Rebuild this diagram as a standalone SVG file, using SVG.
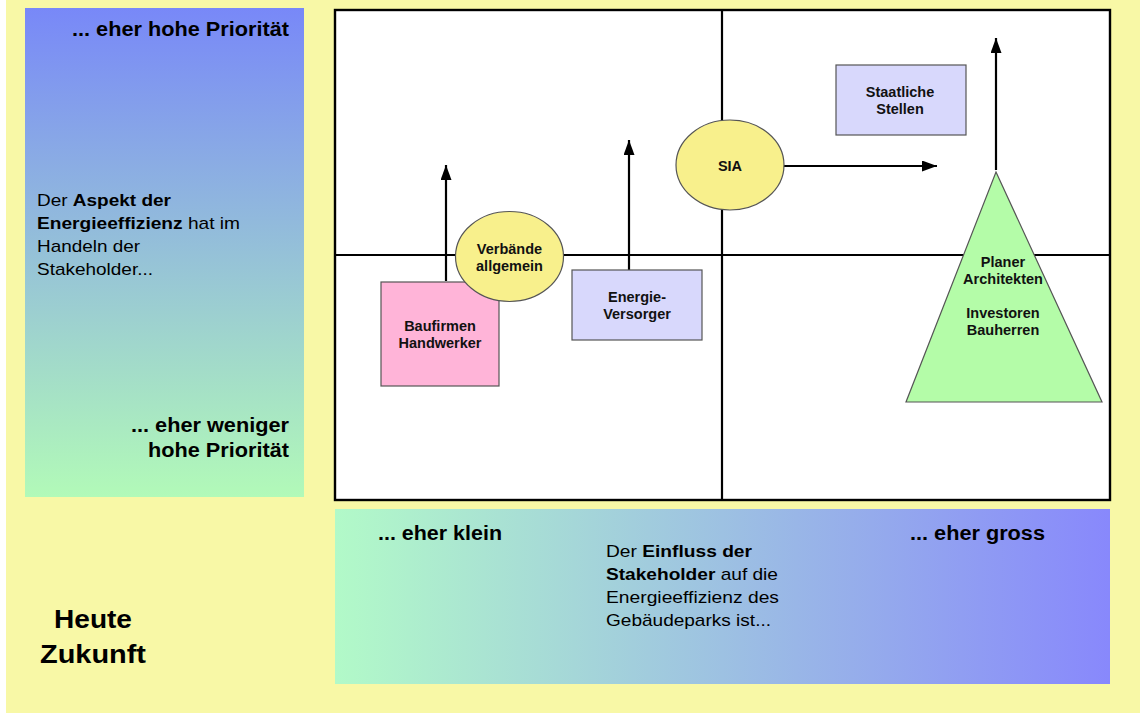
<svg xmlns="http://www.w3.org/2000/svg" width="1140" height="713" viewBox="0 0 1140 713">
<defs>
<linearGradient id="gLeft" x1="0" y1="0" x2="0" y2="1">
<stop offset="0" stop-color="#7888f8"/>
<stop offset="1" stop-color="#b2fab8"/>
</linearGradient>
<linearGradient id="gBottom" x1="0" y1="0" x2="1" y2="0">
<stop offset="0" stop-color="#b2fac8"/>
<stop offset="1" stop-color="#8888fc"/>
</linearGradient>
<marker id="arr" markerUnits="userSpaceOnUse" markerWidth="16" markerHeight="12" refX="15" refY="5.5" orient="auto">
<path d="M0,0 L15,5.5 L0,11 z" fill="#000"/>
</marker>
<style>
text{font-family:"Liberation Sans",Arial,Helvetica,sans-serif;fill:#000}
.big{font-size:19.5px;font-weight:bold}
.body{font-size:17px}
.b{font-weight:bold}
.node{font-size:14.5px;font-weight:bold;text-anchor:middle;fill:#111}
.nodebox{stroke:#555;stroke-width:1.2}
.conn{stroke:#000;stroke-width:2.2;fill:none;marker-end:url(#arr)}
.grid{stroke:#000;stroke-width:2.2;fill:none}
.frame{stroke:#000;stroke-width:2.4;fill:#fff}
</style>
</defs>
<rect x="0" y="0" width="1140" height="713" fill="#fff"/>
<rect x="6" y="0" width="1134" height="713" fill="#f8f8a6"/>

<g id="left-panel">
<rect x="25" y="8" width="279" height="489" fill="url(#gLeft)"/>
<text class="big" x="289" y="36" text-anchor="end" textLength="217" lengthAdjust="spacingAndGlyphs">... eher hohe Priorität</text>
<text class="body" x="37" y="206" textLength="134" lengthAdjust="spacingAndGlyphs">Der <tspan class="b">Aspekt der</tspan></text>
<text class="body" x="37" y="229" textLength="203" lengthAdjust="spacingAndGlyphs"><tspan class="b">Energieeffizienz</tspan> hat im</text>
<text class="body" x="37" y="252" textLength="103" lengthAdjust="spacingAndGlyphs">Handeln der</text>
<text class="body" x="37" y="275" textLength="116" lengthAdjust="spacingAndGlyphs">Stakeholder...</text>
<text class="big" x="289" y="432" text-anchor="end" textLength="158" lengthAdjust="spacingAndGlyphs">... eher weniger</text>
<text class="big" x="289" y="457" text-anchor="end" textLength="141" lengthAdjust="spacingAndGlyphs">hohe Priorität</text>
</g>

<g id="time-labels">
<text x="54" y="628" font-size="26" font-weight="bold" textLength="78" lengthAdjust="spacingAndGlyphs">Heute</text>
<text x="40" y="663" font-size="26" font-weight="bold" textLength="106" lengthAdjust="spacingAndGlyphs">Zukunft</text>
</g>

<g id="bottom-panel">
<rect x="335" y="509" width="775" height="175" fill="url(#gBottom)"/>
<text class="big" x="378" y="540" textLength="124" lengthAdjust="spacingAndGlyphs">... eher klein</text>
<text class="big" x="910" y="540" textLength="135" lengthAdjust="spacingAndGlyphs">... eher gross</text>
<text class="body" x="606" y="557" textLength="146" lengthAdjust="spacingAndGlyphs">Der <tspan class="b">Einfluss der</tspan></text>
<text class="body" x="606" y="580" textLength="172" lengthAdjust="spacingAndGlyphs"><tspan class="b">Stakeholder</tspan> auf die</text>
<text class="body" x="606" y="603" textLength="173" lengthAdjust="spacingAndGlyphs">Energieeffizienz des</text>
<text class="body" x="606" y="626" textLength="165" lengthAdjust="spacingAndGlyphs">Gebäudeparks ist...</text>
</g>

<g id="chart">
<rect class="frame" x="335" y="10" width="775" height="490"/>
<line class="grid" x1="722" y1="10" x2="722" y2="500"/>
<line class="grid" x1="335" y1="255" x2="1110" y2="255"/>
</g>

<g id="connectors">
<line class="conn" x1="446" y1="281" x2="446" y2="165"/>
<line class="conn" x1="629" y1="270" x2="629" y2="140"/>
<line class="conn" x1="777" y1="166" x2="937" y2="166"/>
<line class="conn" x1="996" y1="170" x2="996" y2="38"/>
</g>

<g id="baufirmen">
<rect class="nodebox" x="381" y="282" width="118" height="104" fill="#ffb4d8"/>
<text class="node" x="440" y="331">Baufirmen</text>
<text class="node" x="440" y="348">Handwerker</text>
</g>

<g id="verbaende">
<ellipse class="nodebox" cx="509.5" cy="256.5" rx="54" ry="45" fill="#f8f08c"/>
<text class="node" x="509.5" y="254">Verbände</text>
<text class="node" x="509.5" y="271">allgemein</text>
</g>

<g id="energieversorger">
<rect class="nodebox" x="572" y="270" width="130" height="70" fill="#d8d8fc"/>
<text class="node" x="637" y="302">Energie-</text>
<text class="node" x="637" y="319">Versorger</text>
</g>

<g id="sia">
<ellipse class="nodebox" cx="730" cy="165" rx="54" ry="45" fill="#f8f08c"/>
<text class="node" x="730" y="171">SIA</text>
</g>

<g id="staatliche">
<rect class="nodebox" x="836" y="65" width="130" height="70" fill="#d8d8fc"/>
<text class="node" x="900" y="97">Staatliche</text>
<text class="node" x="900" y="114">Stellen</text>
</g>

<g id="planer-triangle">
<polygon class="nodebox" points="996,172 1102,402 906,402" fill="#b4fca8"/>
<text class="node" x="1003" y="267">Planer</text>
<text class="node" x="1003" y="284">Architekten</text>
<text class="node" x="1003" y="318">Investoren</text>
<text class="node" x="1003" y="335">Bauherren</text>
</g>
</svg>
